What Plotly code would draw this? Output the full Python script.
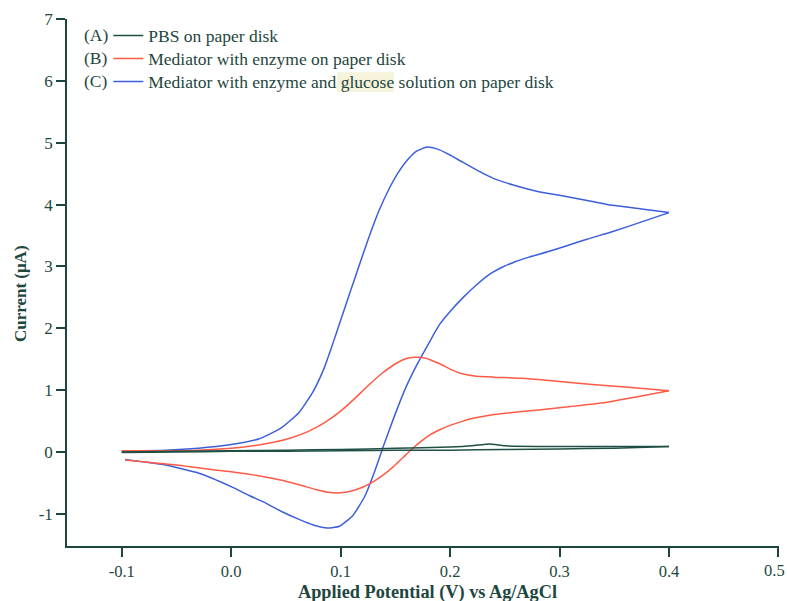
import plotly.graph_objects as go

# Cyclic voltammograms: forward sweep (-0.1 -> 0.4 V) followed by reverse sweep
# (A) PBS on paper disk
a_fwd_x = [-0.1, -0.05, 0.0, 0.05, 0.1, 0.15, 0.2, 0.22, 0.236, 0.25, 0.28, 0.32, 0.36, 0.4]
a_fwd_y = [0.0, 0.01, 0.02, 0.03, 0.04, 0.06, 0.08, 0.10, 0.13, 0.10, 0.09, 0.09, 0.09, 0.09]
a_rev_x = [0.4, 0.35, 0.3, 0.25, 0.2, 0.15, 0.1, 0.05, 0.0, -0.05, -0.1]
a_rev_y = [0.09, 0.06, 0.05, 0.04, 0.03, 0.03, 0.02, 0.01, 0.01, 0.0, -0.01]

# (B) Mediator with enzyme on paper disk
b_fwd_x = [-0.1, -0.07, -0.03, 0.0, 0.02, 0.04, 0.055, 0.07, 0.085, 0.1, 0.112, 0.125,
           0.137, 0.147, 0.157, 0.167, 0.177, 0.19, 0.2, 0.21, 0.222, 0.24, 0.266, 0.3,
           0.33, 0.36, 0.4]
b_fwd_y = [0.02, 0.02, 0.03, 0.06, 0.10, 0.16, 0.23, 0.33, 0.47, 0.66, 0.85, 1.07,
           1.26, 1.39, 1.49, 1.53, 1.52, 1.43, 1.34, 1.27, 1.23, 1.21, 1.19, 1.14,
           1.09, 1.05, 0.99]
b_rev_x = [0.4, 0.37, 0.342, 0.31, 0.281, 0.255, 0.236, 0.222, 0.211, 0.2, 0.19, 0.182,
           0.174, 0.166, 0.157, 0.148, 0.139, 0.13, 0.12, 0.11, 0.1, 0.09, 0.078, 0.062,
           0.044, 0.02, 0.0, -0.029, -0.05, -0.074, -0.097]
b_rev_y = [0.99, 0.89, 0.80, 0.735, 0.68, 0.635, 0.595, 0.55, 0.495, 0.43, 0.355, 0.28,
           0.18, 0.06, -0.09, -0.24, -0.37, -0.48, -0.57, -0.63, -0.66, -0.655, -0.61, -0.53,
           -0.45, -0.37, -0.32, -0.26, -0.21, -0.17, -0.13]

# (C) Mediator with enzyme and glucose solution on paper disk
c_fwd_x = [-0.1, -0.06, -0.03, 0.0, 0.025, 0.045, 0.062, 0.075, 0.085, 0.093, 0.1, 0.108,
           0.117, 0.126, 0.135, 0.145, 0.152, 0.16, 0.169, 0.179, 0.188, 0.199, 0.21, 0.224,
           0.24, 0.257, 0.28, 0.306, 0.33, 0.348, 0.375, 0.4]
c_fwd_y = [0.02, 0.03, 0.06, 0.12, 0.21, 0.38, 0.64, 0.98, 1.36, 1.76, 2.13, 2.55,
           3.02, 3.48, 3.90, 4.28, 4.50, 4.70, 4.86, 4.93, 4.90, 4.81, 4.70, 4.56,
           4.42, 4.32, 4.21, 4.13, 4.05, 3.99, 3.93, 3.87]
c_rev_x = [0.4, 0.375, 0.348, 0.325, 0.306, 0.29, 0.272, 0.26, 0.248, 0.235, 0.224, 0.212,
           0.2, 0.19, 0.18, 0.17, 0.16, 0.15, 0.14, 0.131, 0.122, 0.111, 0.099, 0.088,
           0.075, 0.062, 0.047, 0.032, 0.016, 0.0, -0.03, -0.06, -0.08, -0.097]
c_rev_y = [3.87, 3.72, 3.56, 3.44, 3.33, 3.24, 3.15, 3.08, 2.99, 2.86, 2.70, 2.50,
           2.27, 2.05, 1.74, 1.42, 1.06, 0.62, 0.14, -0.32, -0.72, -1.03, -1.20, -1.23,
           -1.18, -1.09, -0.97, -0.83, -0.70, -0.56, -0.34, -0.21, -0.16, -0.12]

labels = ["PBS on paper disk",
          "Mediator with enzyme on paper disk",
          "Mediator with enzyme and glucose solution on paper disk"]
prefixes = ["(A)", "(B)", "(C)"]
colors = ["#1f4f44", "#ff5a45", "#3d5fdc"]

x_ticks = [-0.1, 0.0, 0.1, 0.2, 0.3, 0.4, 0.5]
y_ticks = [-1, 0, 1, 2, 3, 4, 5, 6, 7]

ink = "#1e4640"
serif = "Liberation Serif"
text_size = 17.5
tick_size = 16.5

sweeps = [
    ((a_fwd_x, a_fwd_y), (a_rev_x, a_rev_y)),
    ((b_fwd_x, b_fwd_y), (b_rev_x, b_rev_y)),
    ((c_fwd_x, c_fwd_y), (c_rev_x, c_rev_y)),
]

fig = go.Figure()
# draw C first, A last so the flat baseline sits on top
for i in [2, 1, 0]:
    for k, (xs, ys) in enumerate(sweeps[i]):
        fig.add_trace(go.Scatter(
            x=xs, y=ys, mode="lines",
            name=f'<span style="font-size:{text_size}px">{labels[i]}</span>',
            legendgroup=prefixes[i], showlegend=(k == 0),
            line=dict(color=colors[i], width=1.5, shape="spline", smoothing=0.5),
            legendrank=i + 1,
        ))

# faint marker-pen highlight over the word "glucose" in the legend
fig.add_shape(type="rect", xref="paper", yref="paper",
              x0=0.379, x1=0.459, y0=0.862, y1=0.899,
              fillcolor="#f5f3da", line=dict(width=0), layer="below")

for i, p in enumerate(prefixes):
    fig.add_annotation(
        text=p, xref="paper", yref="paper", x=0.061, y=0.9696 - 0.0436 * i,
        xanchor="right", yanchor="middle", showarrow=False,
        font=dict(family=serif, size=text_size, color=ink),
    )

# axis titles
fig.add_annotation(
    text="<b>Applied Potential (V) vs Ag/AgCl</b>", xref="paper", yref="paper",
    x=0.507, y=-0.088, xanchor="center", yanchor="middle", showarrow=False,
    font=dict(family=serif, size=18.3, color=ink),
)
fig.add_annotation(
    text="<b>Current (μA)</b>", xref="paper", yref="paper", textangle=-90,
    x=-0.066, y=0.478, xanchor="center", yanchor="middle", showarrow=False,
    font=dict(family=serif, size=17, color=ink),
)

# the last x label sits at the page edge: draw it nudged inward
x_labels = [f"{v:.1f}" for v in x_ticks]
fig.add_annotation(
    text=x_labels[-1], xref="x", yref="paper", x=x_ticks[-1], y=-0.0474,
    xanchor="center", yanchor="middle", xshift=-4, showarrow=False,
    font=dict(family=serif, size=tick_size, color=ink),
)
x_labels[-1] = ""

fig.update_layout(
    width=787, height=601,
    margin=dict(l=67, r=8, t=19, b=55),
    plot_bgcolor="rgba(0,0,0,0)", paper_bgcolor="white",
    showlegend=True,
    legend=dict(
        x=0.058, y=1.0, xanchor="left", yanchor="top",
        bgcolor="rgba(0,0,0,0)", borderwidth=0,
        font=dict(family=serif, size=15.4, color=ink),
        itemwidth=30, tracegroupgap=0, groupclick="togglegroup",
    ),
    font=dict(family=serif, color=ink),
)

fig.update_xaxes(
    range=[-0.15, 0.5005], tickvals=x_ticks, ticktext=x_labels,
    automargin=False,
    showgrid=False, zeroline=False,
    showline=True, linecolor=ink, linewidth=1.5,
    ticks="outside", ticklen=9, tickwidth=1.5, tickcolor=ink,
    tickfont=dict(family=serif, size=tick_size, color=ink),
)
fig.update_yaxes(
    range=[-1.52, 7], tickvals=y_ticks,
    ticktext=[str(v) for v in y_ticks],
    automargin=False,
    showgrid=False, zeroline=False,
    showline=True, linecolor=ink, linewidth=1.5,
    ticks="outside", ticklen=9, tickwidth=1.5, tickcolor=ink,
    tickfont=dict(family=serif, size=17, color=ink),
)

fig.write_html("out.html")
